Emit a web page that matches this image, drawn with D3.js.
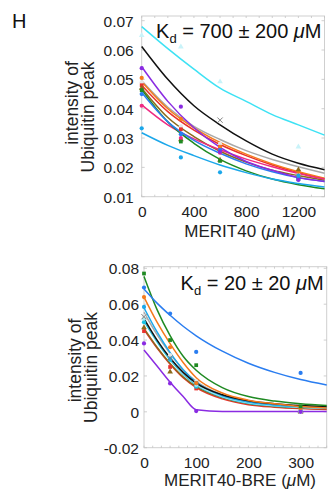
<!DOCTYPE html>
<html><head><meta charset="utf-8">
<script src="https://cdn.jsdelivr.net/npm/d3@7"></script>
<style>
html,body{margin:0;padding:0;background:#fff;}
svg{display:block;font-family:"Liberation Sans",Arial,Helvetica,sans-serif;}
</style></head>
<body><svg id="c" width="332" height="493"></svg>
<script>
// ---------- data: top panel (MERIT40) ----------
const topFitX = [0, 200, 400, 600, 800, 1000, 1200, 1400];
const topPtX = [0, 300, 600, 1200];
const topNames = ["gray","red","orange","olive","pink","green","blue","skyblue","purple","black","cyan"];
const topFit_cyan    = [0.068, 0.0605, 0.0535, 0.047, 0.0425, 0.038, 0.0345, 0.031];
const topFit_black   = [0.0612, 0.050, 0.041, 0.0345, 0.029, 0.0245, 0.0214, 0.0192];
const topFit_gray    = [0.0495, 0.0405, 0.034, 0.0295, 0.0257, 0.0227, 0.0202, 0.018];
const topFit_purple  = [0.0543, 0.0425, 0.0335, 0.0268, 0.022, 0.019, 0.0165, 0.0152];
const topFit_orange  = [0.0492, 0.040, 0.0335, 0.0285, 0.0245, 0.0212, 0.0185, 0.0163];
const topFit_red     = [0.048, 0.039, 0.0327, 0.0278, 0.024, 0.0208, 0.0182, 0.0161];
const topFit_olive   = [0.047, 0.037, 0.0305, 0.0255, 0.0218, 0.019, 0.0172, 0.0156];
const topFit_green   = [0.0465, 0.0355, 0.0282, 0.0227, 0.0188, 0.016, 0.0141, 0.0127];
const topFit_blue    = [0.0455, 0.0355, 0.0292, 0.0248, 0.0212, 0.0185, 0.0165, 0.0152];
const topFit_pink    = [0.0413, 0.0345, 0.0297, 0.026, 0.0228, 0.0202, 0.0179, 0.016];
const topFit_skyblue = [0.0318, 0.0275, 0.024, 0.0208, 0.0182, 0.016, 0.0145, 0.0133];
const topPt_cyan    = [0.065, 0.0611, 0.0492, 0.027];
const topPt_black   = [null, null, 0.0361, null];
const topPt_gray    = [0.049, 0.034, 0.028, 0.0175];
const topPt_purple  = [0.0538, 0.0407, 0.0253, 0.0157];
const topPt_orange  = [0.0505, 0.0365, 0.027, 0.0185];
const topPt_red     = [0.048, 0.033, 0.027, 0.017];
const topPt_olive   = [0.047, 0.0295, 0.0225, 0.0192];
const topPt_green   = [0.0463, 0.0288, 0.0222, 0.016];
const topPt_blue    = [0.045, 0.0313, 0.026, 0.0163];
const topPt_pink    = [0.041, 0.030, 0.025, 0.0165];
const topPt_skyblue = [0.0333, 0.0234, 0.0183, 0.0172];
const topXTicks = [0, 400, 800, 1200];
const topYTicks = [0.01, 0.02, 0.03, 0.04, 0.05, 0.06, 0.07];
const topYTickLabels = ["0.01","0.02","0.03","0.04","0.05","0.06","0.07"];

// ---------- data: bottom panel (MERIT40-BRE) ----------
const botFitX = [0, 25, 50, 75, 100, 150, 200, 250, 300, 350];
const botPtX = [0, 50, 100, 300];
const botNames = ["red","olive","teal","lightcyan","gray","skyblue","black","orange","green","blue","purple"];
const botFit_green     = [0.0755, 0.057, 0.0425, 0.031, 0.0232, 0.0135, 0.0085, 0.006, 0.0045, 0.0035];
const botFit_blue      = [0.0685, 0.0606, 0.0538, 0.0477, 0.0424, 0.0338, 0.0271, 0.022, 0.018, 0.015];
const botFit_orange    = [0.064, 0.050, 0.038, 0.0275, 0.019, 0.0105, 0.0065, 0.0045, 0.003, 0.0022];
const botFit_skyblue   = [0.058, 0.0445, 0.033, 0.0235, 0.0165, 0.009, 0.0055, 0.0038, 0.0028, 0.0022];
const botFit_gray      = [0.0555, 0.043, 0.0325, 0.0235, 0.017, 0.0095, 0.006, 0.004, 0.003, 0.0024];
const botFit_lightcyan = [0.052, 0.040, 0.030, 0.0215, 0.0155, 0.0085, 0.005, 0.0035, 0.0026, 0.002];
const botFit_teal      = [0.0505, 0.039, 0.029, 0.021, 0.015, 0.0082, 0.0048, 0.0033, 0.0025, 0.002];
const botFit_black     = [0.052, 0.040, 0.030, 0.022, 0.016, 0.0095, 0.0062, 0.0045, 0.0035, 0.003];
const botFit_olive     = [0.0465, 0.036, 0.027, 0.0195, 0.014, 0.0078, 0.0045, 0.003, 0.0022, 0.0017];
const botFit_red       = [0.0458, 0.0355, 0.0265, 0.019, 0.0135, 0.0072, 0.004, 0.0026, 0.0018, 0.0013];
const botFit_purple    = [0.0345, 0.0255, 0.0165, 0.0085, 0.0012, 0.0002, 0.0002, 0.0002, 0.0002, 0.0002];
const botPt_green     = [0.0771, 0.040, 0.026, 0.003];
const botPt_blue      = [0.0693, 0.0548, 0.0334, 0.0217];
const botPt_orange    = [0.064, 0.036, 0.016, 0.002];
const botPt_skyblue   = [0.0585, 0.0297, 0.016, 0.001];
const botPt_gray      = [0.0533, 0.0316, 0.017, 0.0];
const botPt_lightcyan = [0.052, 0.031, 0.015, 0.0];
const botPt_teal      = [0.050, 0.029, 0.014, 0.0];
const botPt_black     = [0.053, 0.030, 0.016, 0.001];
const botPt_olive     = [0.047, 0.0223, 0.016, 0.0];
const botPt_red       = [0.045, 0.025, 0.013, 0.0];
const botPt_purple    = [0.0381, 0.0158, 0.0004, 0.0];
const botXTicks = [0, 100, 200, 300];
const botYTicks = [-0.02, 0, 0.02, 0.04, 0.06, 0.08];
const botYTickLabels = ["-0.02","0","0.02","0.04","0.06","0.08"];

// ---------- styles ----------
const colors = {cyan:"#3ee2f4", black:"#111111", gray:"#a8a8a8", purple:"#8a2be2", orange:"#f57a1c",
  red:"#e8312c", olive:"#8c6a1c", green:"#1f8a22", blue:"#2a7df0", pink:"#ef2a82", skyblue:"#1ba7ea",
  lightcyan:"#a6e8f2", teal:"#19c2e2"};
const symbols = {cyan:d3.symbolTriangle, black:d3.symbolX, gray:d3.symbolCircle, purple:d3.symbolCircle,
  orange:d3.symbolCircle, red:d3.symbolSquare, olive:d3.symbolTriangle, green:d3.symbolSquare,
  blue:d3.symbolCircle, pink:d3.symbolCircle, skyblue:d3.symbolCircle, lightcyan:d3.symbolCircle, teal:d3.symbolCircle};
const pale = {cyan:"#c9f3f9", gray:"#e6e6e6"};

const topFits = {cyan:topFit_cyan, black:topFit_black, gray:topFit_gray, purple:topFit_purple, orange:topFit_orange,
  red:topFit_red, olive:topFit_olive, green:topFit_green, blue:topFit_blue, pink:topFit_pink, skyblue:topFit_skyblue};
const topPts = {cyan:topPt_cyan, black:topPt_black, gray:topPt_gray, purple:topPt_purple, orange:topPt_orange,
  red:topPt_red, olive:topPt_olive, green:topPt_green, blue:topPt_blue, pink:topPt_pink, skyblue:topPt_skyblue};
const botFits = {green:botFit_green, blue:botFit_blue, orange:botFit_orange, skyblue:botFit_skyblue, gray:botFit_gray,
  lightcyan:botFit_lightcyan, teal:botFit_teal, black:botFit_black, olive:botFit_olive, red:botFit_red, purple:botFit_purple};
const botPts = {green:botPt_green, blue:botPt_blue, orange:botPt_orange, skyblue:botPt_skyblue, gray:botPt_gray,
  lightcyan:botPt_lightcyan, teal:botPt_teal, black:botPt_black, olive:botPt_olive, red:botPt_red, purple:botPt_purple};

const svg = d3.select("#c");
const FRAME = "#cfcfcf";
const FONT = "Liberation Sans, Arial, Helvetica, sans-serif";

function panel(o) {
  const x = d3.scaleLinear().domain(o.xDomain).range([o.left, o.right]);
  const y = d3.scaleLinear().domain(o.yDomain).range([o.bottom, o.top]);
  const g = svg.append("g");
  g.append("rect").attr("x", o.left).attr("y", o.top).attr("width", o.right - o.left)
    .attr("height", o.bottom - o.top).attr("fill", "none").attr("stroke", FRAME).attr("stroke-width", 1);
  const minor = g.append("g").attr("stroke", "#c4c4c4").attr("stroke-width", 0.8);
  o.minorX.forEach(v => {
    minor.append("line").attr("x1", x(v)).attr("x2", x(v)).attr("y1", o.top).attr("y2", o.top + 2);
    minor.append("line").attr("x1", x(v)).attr("x2", x(v)).attr("y1", o.bottom).attr("y2", o.bottom - 2);
  });
  o.yTicks.forEach(v => {
    minor.append("line").attr("x1", o.left).attr("x2", o.left + 3).attr("y1", y(v)).attr("y2", y(v));
    minor.append("line").attr("x1", o.right).attr("x2", o.right - 3).attr("y1", y(v)).attr("y2", y(v));
  });
  const ax = g.append("g").attr("transform", `translate(0,${o.bottom})`)
    .call(d3.axisBottom(x).tickValues(o.xTicks).tickSize(0).tickPadding(o.xPad).tickFormat(d3.format("d")));
  const ay = g.append("g").attr("transform", `translate(${o.left},0)`)
    .call(d3.axisLeft(y).tickValues(o.yTicks).tickSize(0).tickPadding(o.yPad).tickFormat((d, i) => o.yLabels[i]));
  [ax, ay].forEach(a => {
    a.select(".domain").remove();
    a.attr("font-family", FONT).attr("font-size", 15.5);
    a.selectAll("text").attr("fill", "#222");
  });
  ay.selectAll("text").attr("dy", "0.36em");
  const line = d3.line().x((d, i) => x(o.fitX[i])).y(d => y(d)).curve(d3.curveMonotoneX);
  const pg = g.append("g");
  o.order.forEach(k => {
    pg.append("path").attr("d", line(o.fits[k])).attr("fill", "none")
      .attr("stroke", colors[k]).attr("stroke-width", 1.5);
  });
  o.order.forEach(k => {
    o.pts[k].forEach((v, i) => {
      if (v === null) return;
      const isX = symbols[k] === d3.symbolX;
      const sym = d3.symbol().type(symbols[k]).size(isX ? 20 : 14);
      const p = pg.append("path").attr("d", sym())
        .attr("transform", `translate(${x(o.ptX[i])},${y(v)})`);
      if (isX) p.attr("fill", "none").attr("stroke", "#777").attr("stroke-width", 0.9);
      else if (pale[k]) p.attr("fill", pale[k]).attr("stroke", "none");
      else p.attr("fill", colors[k]).attr("stroke", "none");
    });
  });
  // y label
  const ty = g.append("text").attr("font-size", 17.5).attr("fill", "#222").attr("text-anchor", "middle")
    .attr("transform", `translate(${o.ylabX},${o.ylabY}) rotate(-90)`);
  ty.append("tspan").attr("x", o.ylab1Shift).attr("y", 0).text("intensity of");
  ty.append("tspan").attr("x", o.ylab2Shift).attr("y", 16).text("Ubiquitin peak");
  // x label
  const tx = g.append("text").attr("x", o.xlabX).attr("y", o.xlabY).attr("font-size", 17)
    .attr("fill", "#222").attr("text-anchor", "middle");
  tx.append("tspan").text(o.xlabel + " (");
  tx.append("tspan").attr("font-style", "italic").text("μ");
  tx.append("tspan").text("M)");
  // Kd
  const kd = g.append("text").attr("x", o.right - 3).attr("y", o.kdY).attr("font-size", 20)
    .attr("fill", "#111").attr("text-anchor", "end");
  kd.append("tspan").text("K");
  kd.append("tspan").attr("font-size", 13).attr("dy", 5).text("d");
  kd.append("tspan").attr("dy", -5).text(" = " + o.kd + " ");
  kd.append("tspan").attr("font-style", "italic").text("μ");
  kd.append("tspan").text("M");
}

svg.append("text").attr("x", 12).attr("y", 27.5).attr("font-size", 20).attr("fill", "#111").text("H");

panel({
  xDomain: [0, 1400], yDomain: [0.01, 0.0716], left: 141.7, right: 324.5, top: 16, bottom: 196.7,
  xTicks: topXTicks, yTicks: topYTicks, yLabels: topYTickLabels, minorX: d3.range(0, 1401, 100), xPad: 9, yPad: 8,
  fitX: topFitX, ptX: topPtX, fits: topFits, pts: topPts, order: topNames,
  ylabX: 78, ylabY: 110, ylab1Shift: 7, ylab2Shift: -7, xlabX: 240, xlabY: 236.5, xlabel: "MERIT40", kd: "700 ± 200", kdY: 37.5
});
panel({
  xDomain: [0, 350], yDomain: [-0.02, 0.0809], left: 144, right: 326.7, top: 266.7, bottom: 447.7,
  xTicks: botXTicks, yTicks: botYTicks, yLabels: botYTickLabels, minorX: d3.range(0, 351, 50 / 3), xPad: 9, yPad: 5,
  fitX: botFitX, ptX: botPtX, fits: botFits, pts: botPts, order: botNames,
  ylabX: 81, ylabY: 364, ylab1Shift: 3.5, ylab2Shift: -3.5, xlabX: 240, xlabY: 485.5, xlabel: "MERIT40-BRE", kd: "20 ± 20", kdY: 290
});
</script></body></html>
